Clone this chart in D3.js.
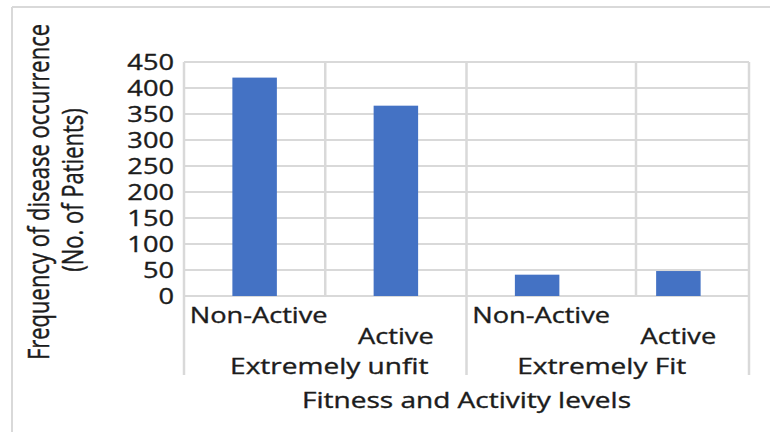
<!DOCTYPE html>
<html>
<head>
<meta charset="utf-8">
<script src="https://cdn.jsdelivr.net/npm/d3@7"></script>
<style>
  html, body { margin: 0; padding: 0; background: #ffffff; }
  svg { display: block; }
  text { font-family: "Open Sans", "DejaVu Sans", sans-serif; fill: #1c1c1c; stroke: #1c1c1c; stroke-width: 0.35px; }
</style>
</head>
<body>
<svg id="chart" width="770" height="432"></svg>
<script>
// Disease occurrence by fitness group and activity level
const groups = ["Extremely unfit", "Extremely Fit"];
const activity = ["Non-Active", "Active"];
const categories = ["Extremely unfit|Non-Active", "Extremely unfit|Active",
                    "Extremely Fit|Non-Active", "Extremely Fit|Active"];
const patients = [420, 366, 41, 48];
const yTicks = [0, 50, 100, 150, 200, 250, 300, 350, 400, 450];
// vertical gridline positions, in category units along the axis
const vGridAt = [0, 1, 2, 3.2, 4];
const yTitle = ["Frequency of disease occurrence", "(No. of Patients)"];
const xTitle = "Fitness and Activity levels";

const svg = d3.select("#chart");
const plot = { left: 184, right: 749, top: 62, bottom: 296 };
const fontSize = 21;
const gridColor = "#d9d9d9";

// frame around the chart area (top and left edges)
svg.append("line").attr("x1", 12).attr("x2", 770).attr("y1", 7).attr("y2", 7)
  .attr("stroke", gridColor).attr("stroke-width", 2);
svg.append("line").attr("x1", 12).attr("x2", 12).attr("y1", 7).attr("y2", 432)
  .attr("stroke", gridColor).attr("stroke-width", 2);

const x = d3.scaleBand().domain(categories).range([plot.left, plot.right])
  .paddingInner(0).paddingOuter(0);
const xUnits = d3.scaleLinear().domain([0, categories.length]).range([plot.left, plot.right]);
const y = d3.scaleLinear().domain([0, 450]).range([plot.bottom, plot.top]);

// horizontal gridlines
svg.append("g").selectAll("line").data(yTicks).join("line")
  .attr("x1", plot.left).attr("x2", plot.right)
  .attr("y1", d => y(d)).attr("y2", d => y(d))
  .attr("stroke", gridColor).attr("stroke-width", 2);

// vertical gridlines inside the plot
svg.append("g").selectAll("line").data(vGridAt).join("line")
  .attr("x1", d => xUnits(d)).attr("x2", d => xUnits(d))
  .attr("y1", plot.top).attr("y2", plot.bottom)
  .attr("stroke", gridColor).attr("stroke-width", 2.5);

// group separators below the axis
const groupEdges = d3.range(groups.length + 1).map(i => i * activity.length);
svg.append("g").selectAll("line").data(groupEdges).join("line")
  .attr("x1", d => xUnits(d)).attr("x2", d => xUnits(d))
  .attr("y1", plot.bottom).attr("y2", 375)
  .attr("stroke", gridColor).attr("stroke-width", 2.5);

// bars
const barW = x.bandwidth() * 0.315;
svg.append("g").selectAll("rect").data(categories).join("rect")
  .attr("x", d => x(d) + x.bandwidth() / 2 - barW / 2)
  .attr("width", barW)
  .attr("y", (d, i) => y(patients[i]))
  .attr("height", (d, i) => y(0) - y(patients[i]))
  .attr("fill", "#4472c4");

// text helper: horizontally widened glyphs
const texts = svg.append("g");
function label(str, cx, by, anchor, sx) {
  return texts.append("text")
    .attr("transform", `translate(${cx},${by}) scale(${sx},1)`)
    .attr("text-anchor", anchor)
    .attr("font-size", fontSize)
    .text(str);
}

// measure natural width to set the horizontal stretch
const probe = texts.append("text").attr("font-size", fontSize).text("Non-Active");
const sx = 138 / probe.node().getComputedTextLength();
probe.remove();

// y tick labels
yTicks.forEach(t => label(String(t), 174, y(t) + 7.5, "end", sx));

// category labels (staggered)
categories.forEach((c, i) => {
  const name = c.split("|")[1];
  const shift = i % 2 === 0 ? 4 : 0;
  label(name, x(c) + x.bandwidth() / 2 + shift, i % 2 === 0 ? 323 : 344, "middle", sx);
});

// group labels
groups.forEach((g, i) => {
  const cx = (xUnits(i * activity.length) + xUnits((i + 1) * activity.length)) / 2;
  label(g, cx + (i === 0 ? 4 : -6), 374, "middle", sx * 1.03);
});

// x axis title
label(xTitle, (plot.left + plot.right) / 2, 408, "middle", sx * 1.03);

// y axis title (two rotated lines)
[[49, 192], [83, 190]].forEach(([bx, cy], i) => {
  texts.append("text")
    .attr("transform", `translate(${bx},${cy}) scale(${sx},1) rotate(-90)`)
    .attr("text-anchor", "middle")
    .attr("font-size", 22)
    .text(yTitle[i]);
});
</script>
</body>
</html>
